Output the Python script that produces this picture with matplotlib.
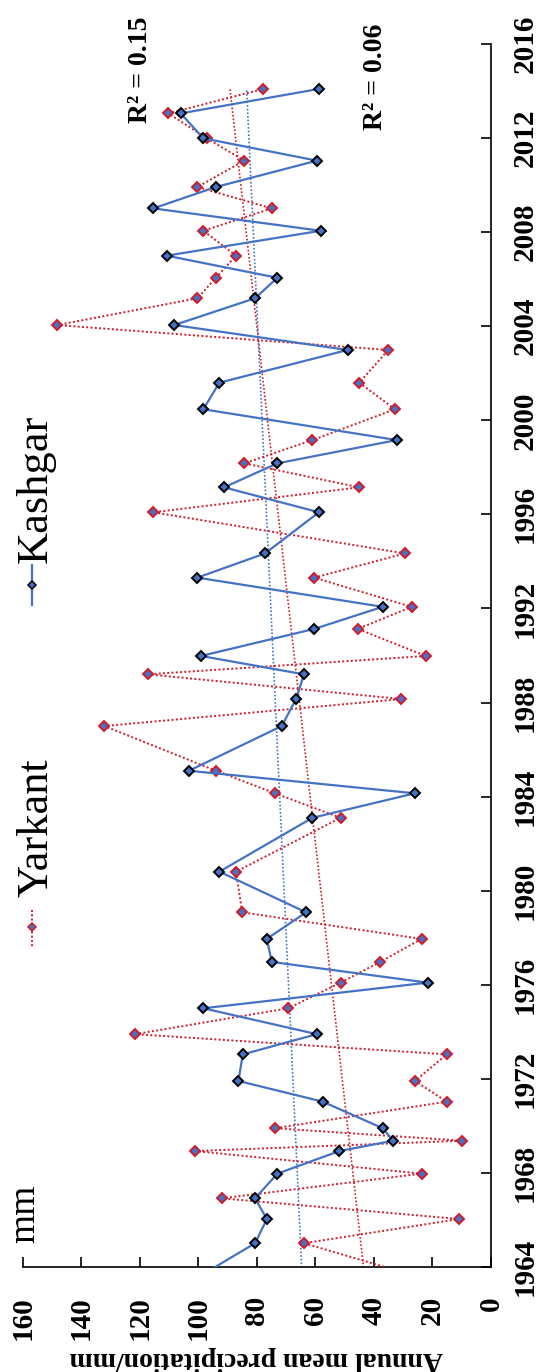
import matplotlib
matplotlib.use("Agg")
import matplotlib.pyplot as plt

plt.rcParams["font.family"] = ["Liberation Serif", "DejaVu Serif"]

# year positions of the points (first one lies below the axis)
years = [1963.5, 1965.01, 1966.04, 1966.92, 1967.97, 1968.93, 1969.37, 1969.9, 1971.03, 1971.91,
         1973.04, 1973.9, 1975.0, 1976.09, 1976.97, 1977.95, 1979.08, 1980.81, 1983.10, 1984.14,
         1985.10, 1987.0, 1988.15, 1989.20, 1989.98, 1991.13, 1992.07, 1993.31, 1994.34, 1996.09,
         1997.15, 1998.17, 1999.16, 2000.47, 2001.60, 2002.99, 2004.05, 2005.19, 2006.06, 2007.0,
         2008.06, 2009.01, 2009.92, 2011.04, 2011.99, 2013.05, 2014.09]

kashgar = [101.0, 80.6, 76.6, 80.6, 73.0, 51.8, 33.4, 37.0, 57.5, 86.3,
           84.8, 59.5, 98.3, 21.6, 74.9, 76.6, 63.2, 92.8, 61.0, 26.0,
           103.2, 71.5, 66.6, 63.9, 99.1, 60.4, 37.0, 100.3, 77.2, 58.8,
           91.2, 73.0, 32.2, 98.3, 92.8, 49.0, 108.2, 80.6, 73.0, 110.8,
           58.2, 115.4, 94.0, 59.5, 98.3, 106.0, 58.8]

yarkant = [22.5, 63.9, 10.8, 92.0, 23.7, 101.1, 9.8, 73.8, 15.1, 26.0,
           15.1, 121.6, 69.3, 51.4, 37.9, 23.7, 85.0, 87.1, 51.4, 73.8,
           94.0, 132.1, 30.7, 117.3, 22.3, 45.5, 27.1, 60.4, 29.4, 115.4,
           45.0, 84.3, 61.0, 32.8, 45.0, 35.1, 148.2, 100.3, 94.0, 87.1,
           98.3, 74.9, 100.3, 84.3, 97.1, 110.2, 77.8]

# linear trend lines, end values
trend_years = [1963.5, 2014.1]
kashgar_trend = [64.5, 83.5]
yarkant_trend = [43.1, 89.2]

value_ticks = [0, 20, 40, 60, 80, 100, 120, 140, 160]
year_ticks = list(range(1964, 2017, 4))

BLUE = "#4472C4"
RED = "#D01C2A"

W, H = 545, 1372
fig = plt.figure(figsize=(W / 100, H / 100), dpi=100)
ax = fig.add_axes([22.7 / W, (H - 1267) / H, (491 - 22.7) / W, (1267 - 44) / H])

# Yarkant first, Kashgar drawn on top
ax.plot(yarkant, years, color=RED, lw=1.4, ls=(0, (1, 1.2)), marker="D", ms=5.6,
        mfc=BLUE, mec=RED, mew=1.4, zorder=3)
ax.plot(kashgar, years, color=BLUE, lw=1.6, marker="D", ms=5.6,
        mfc=BLUE, mec="black", mew=1.4, zorder=4)
ax.plot(kashgar_trend, trend_years, color=BLUE, lw=1.2, ls=(0, (1, 1.2)), zorder=2)
ax.plot(yarkant_trend, trend_years, color=RED, lw=1.2, ls=(0, (1, 1.2)), zorder=2)

ax.set_xlim(160, 0)
ax.set_ylim(1964, 2016)
ax.set_xticks(value_ticks)
ax.set_yticks(year_ticks)
ax.yaxis.tick_right()
ax.spines["left"].set_visible(False)
ax.spines["top"].set_visible(False)
for s in ["bottom", "right"]:
    ax.spines[s].set_linewidth(1.2)
ax.tick_params(axis="x", direction="in", length=7, width=1.2, pad=21, labelsize=21, labelrotation=90)
ax.tick_params(axis="y", direction="in", length=7, width=1.2, pad=15, labelsize=21, labelrotation=90)
for lab in ax.get_xticklabels():
    lab.set_fontweight("bold")
for lab in ax.get_yticklabels():
    lab.set_fontweight("bold")
    lab.set_va("center")

def px(x, y):
    return x / W, 1 - y / H

# axis label (upside down)
fig.text(*px(256, 1352), "Annual mean precipitation/mm", rotation=180, rotation_mode="anchor",
         ha="center", va="baseline", fontsize=20, fontweight="bold")

# unit text
fig.text(*px(34, 1243), "mm", rotation=90, rotation_mode="anchor",
         ha="left", va="baseline", fontsize=27)

# R squared labels
fig.text(*px(147, 123), "R² = 0.15", rotation=90, rotation_mode="anchor",
         ha="left", va="baseline", fontsize=20, fontweight="bold")
fig.text(*px(382, 130), "R² = 0.06", rotation=90, rotation_mode="anchor",
         ha="left", va="baseline", fontsize=20, fontweight="bold")

# legend drawn by hand (vertical handles)
fig.add_artist(plt.Line2D([32 / W, 32 / W], [1 - 565 / H, 1 - 605 / H], color=BLUE, lw=1.6))
fig.add_artist(plt.Line2D([32 / W], [1 - 585 / H], marker="D", ms=4.5, mfc=BLUE, mec="black", mew=1.1))
fig.text(*px(47, 563), "Kashgar", rotation=90, rotation_mode="anchor",
         ha="left", va="baseline", fontsize=32)

fig.add_artist(plt.Line2D([32 / W, 32 / W], [1 - 910 / H, 1 - 947 / H], color=RED, lw=1.4, ls=(0, (1, 1.2))))
fig.add_artist(plt.Line2D([32 / W], [1 - 927 / H], marker="D", ms=4.5, mfc=BLUE, mec=RED, mew=1.1))
fig.text(*px(47, 897), "Yarkant", rotation=90, rotation_mode="anchor",
         ha="left", va="baseline", fontsize=32)

fig.savefig("out.png", dpi=100)
